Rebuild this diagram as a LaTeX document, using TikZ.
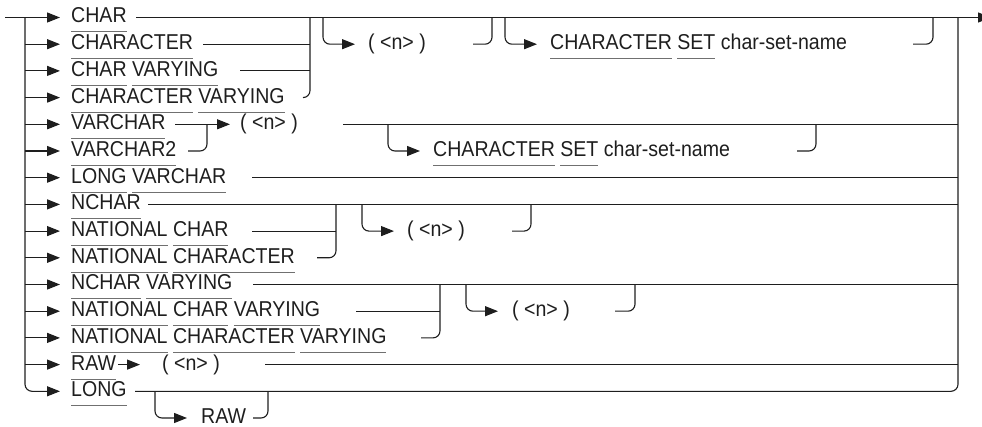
\documentclass[tikz,border=0pt]{standalone}
\usepackage{fontspec}
\setmainfont{Liberation Sans}[FakeStretch=0.91]
\usetikzlibrary{arrows.meta}
\definecolor{ink}{HTML}{1E1E1E}
\definecolor{ulgray}{HTML}{707070}
\newsavebox\uwbox
\newcommand\uw[1]{\sbox\uwbox{#1}\rlap{\textcolor{ulgray}{\rule[-9.5pt]{\wd\uwbox}{1pt}}}\usebox\uwbox}
\tikzset{
  line/.style={line width=1.1pt, draw=ink},
  arr/.style={line, -{Triangle[length=13pt,width=10pt]}},
  rc/.style={rounded corners=7pt},
  txt/.style={anchor=base west, inner sep=0pt, text=ink, font=\fontsize{21.5}{24}\selectfont},
}
\begin{document}
\begin{tikzpicture}[x=1pt,y=-1pt]
\useasboundingbox (0,0) rectangle (982,427);
\clip (0,0) rectangle (982,427);
% row y: 17.5 + 26.7 i ; text baseline = row + 5.5
% ---- text nodes
\node[txt] (t0) at (71,23.0) {\uw{CHAR}};
\node[txt] (t1) at (71,49.7) {\uw{CHARACTER}};
\node[txt] (t2) at (71,76.4) {\uw{CHAR} \uw{VARYING}};
\node[txt] (t3) at (71,103.1) {\uw{CHARACTER} \uw{VARYING}};
\node[txt] (t4) at (71,129.8) {\uw{VARCHAR}};
\node[txt] (t5) at (71,156.5) {\uw{VARCHAR2}};
\node[txt] (t6) at (71,183.2) {\uw{LONG} \uw{VARCHAR}};
\node[txt] (t7) at (71,209.9) {\uw{NCHAR}};
\node[txt] (t8) at (71,236.6) {\uw{NATIONAL} \uw{CHAR}};
\node[txt] (t9) at (71,263.3) {\uw{NATIONAL} \uw{CHARACTER}};
\node[txt] (t10) at (71,290.0) {\uw{NCHAR} \uw{VARYING}};
\node[txt] (t11) at (71,316.7) {\uw{NATIONAL} \uw{CHAR} \uw{VARYING}};
\node[txt] (t12) at (71,343.4) {\uw{NATIONAL} \uw{CHARACTER} \uw{VARYING}};
\node[txt] (t13) at (71,370.1) {\uw{RAW}};
\node[txt] (t14) at (71,396.8) {\uw{LONG}};
\node[txt] (t15) at (201,423.5) {\uw{RAW}};
\node[txt] (n1) at (368,49.7) {( <n> )};
\node[txt] (cs1) at (550,49.7) {\uw{CHARACTER} \uw{SET} char-set-name};
\node[txt] (n2) at (240,129.8) {( <n> )};
\node[txt] (cs2) at (433,156.5) {\uw{CHARACTER} \uw{SET} char-set-name};
\node[txt] (n3) at (407,236.6) {( <n> )};
\node[txt] (n4) at (512,316.7) {( <n> )};
\node[txt] (n5) at (162,370.1) {( <n> )};
% ---- coordinates
\coordinate (in) at (5,17.5);
\coordinate (lt) at (25,17.5);
\coordinate (rt) at (958,17.5);
\coordinate (out) at (991,17.5);
% ---- entry and left trunk
\draw[arr] (in) -- (60,17.5);
\draw[arr,rc] (lt) |- (60,391.3);
\foreach \y in {44.2,70.9,97.6,124.3,151.0,177.7,204.4,231.1,257.8,284.5,311.2,337.9,364.6}
  \draw[arr] (25,\y) -- (60,\y);
% ---- main line and right trunk
\draw[arr] (136,17.5) -- (out);
\draw[line,rc] (135,391.3) -| (rt);
% group CHAR ...
\draw[line] (203,44.2) -- (310,44.2);
\draw[line] (240,70.9) -- (310,70.9);
\draw[line,rc] (303,97.6) -| (310,17.5);
\draw[arr,rc] (323,17.5) |- (355,44.2);
\draw[line,rc] (473,44.2) -| (492,17.5);
\draw[arr,rc] (505,17.5) |- (537,44.2);
\draw[line,rc] (913,44.2) -| (933,17.5);
% VARCHAR
\draw[arr] (175,124.3) -- (230,124.3);
\draw[line,rc] (188,151.0) -| (207,124.3);
\draw[line] (343,124.3) -- (958,124.3);
\draw[arr,rc] (388,124.3) |- (420,151.0);
\draw[line,rc] (797,151.0) -| (816,124.3);
% LONG VARCHAR
\draw[line] (252,177.7) -- (958,177.7);
% NCHAR group
\draw[line] (148,204.4) -- (958,204.4);
\draw[line] (252,231.1) -- (336,231.1);
\draw[line,rc] (317,257.8) -| (336,204.4);
\draw[arr,rc] (362,204.4) |- (394,231.1);
\draw[line,rc] (512,231.1) -| (531,204.4);
% NCHAR VARYING group
\draw[line] (253,284.5) -- (958,284.5);
\draw[line] (356,311.2) -- (440,311.2);
\draw[line,rc] (421,337.9) -| (440,284.5);
\draw[arr,rc] (466,284.5) |- (498,311.2);
\draw[line,rc] (615,311.2) -| (635,284.5);
% RAW
\draw[arr] (118,364.6) -- (140,364.6);
\draw[line] (265,364.6) -- (958,364.6);
% LONG RAW
\draw[arr,rc] (155,391.3) |- (187,418.0);
\draw[line,rc] (253,418.0) -| (268,391.3);
\end{tikzpicture}
\end{document}
